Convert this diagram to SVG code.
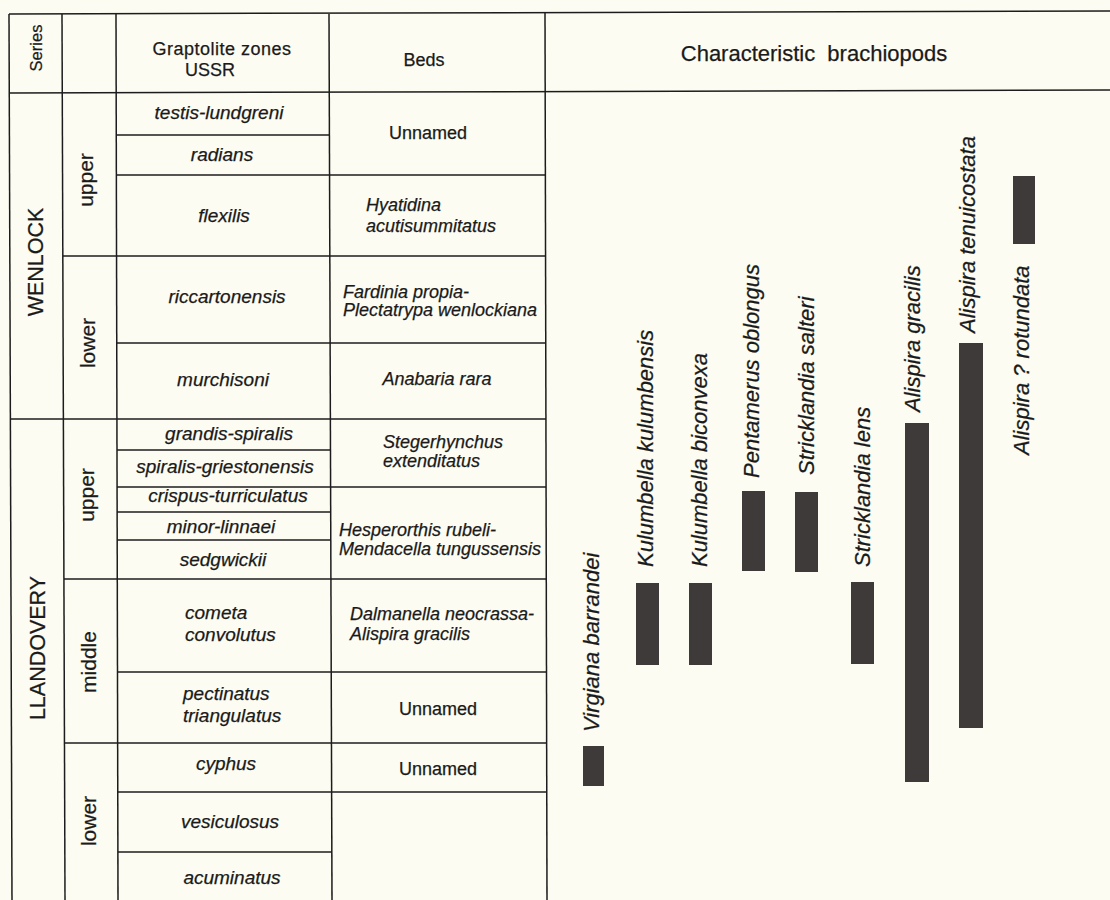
<svg xmlns="http://www.w3.org/2000/svg" width="1110" height="900" viewBox="0 0 1110 900">
<style>
  .bg { fill: #fdfcf2; }
  .ln { stroke: #1c1c1c; stroke-width: 1.5; fill: none; }
  text { font-family: "Liberation Sans", Arial, Helvetica, sans-serif; fill: #1a1a1a; stroke: #1a1a1a; stroke-width: 0.25px; }
  .hd { font-size: 18px; }
  .hd2 { font-size: 22px; word-spacing: 6px; }
  .ser { font-size: 21.5px; }
  .sub { font-size: 21px; }
  .zn { font-size: 19px; font-style: italic; }
  .bd { font-size: 18px; font-style: italic; }
  .un { font-size: 18px; }
  .lab { font-size: 22px; font-style: italic; }
  .bar { fill: #3f3a3a; }
  .m { text-anchor: middle; }
</style>
<rect class="bg" x="0" y="0" width="1110" height="900"/>

<g id="connectors">
  <line class="ln" x1="9" y1="14" x2="1110" y2="11"/>
  <line class="ln" x1="9" y1="93" x2="1110" y2="90"/>
  <line class="ln" x1="9" y1="14" x2="12" y2="900"/>
  <line class="ln" x1="62" y1="14" x2="65" y2="900"/>
  <line class="ln" x1="116" y1="14" x2="118" y2="900"/>
  <line class="ln" x1="329" y1="14" x2="332" y2="900"/>
  <line class="ln" x1="545" y1="12" x2="547" y2="900"/>
  <line class="ln" x1="116" y1="135" x2="330" y2="135"/>
  <line class="ln" x1="116" y1="175" x2="546" y2="175"/>
  <line class="ln" x1="63" y1="256" x2="546" y2="256"/>
  <line class="ln" x1="116" y1="343" x2="546" y2="343"/>
  <line class="ln" x1="10" y1="419" x2="546" y2="419"/>
  <line class="ln" x1="117" y1="450" x2="331" y2="450"/>
  <line class="ln" x1="117" y1="487" x2="546" y2="487"/>
  <line class="ln" x1="117" y1="512" x2="331" y2="512"/>
  <line class="ln" x1="117" y1="540" x2="331" y2="540"/>
  <line class="ln" x1="64" y1="579" x2="546" y2="579"/>
  <line class="ln" x1="117" y1="672" x2="547" y2="672"/>
  <line class="ln" x1="64" y1="743" x2="547" y2="743"/>
  <line class="ln" x1="117" y1="792" x2="547" y2="792"/>
  <line class="ln" x1="118" y1="852" x2="332" y2="852"/>
</g>

<g id="header">
  <text class="hd" transform="translate(42,48) rotate(-90)" text-anchor="middle" style="font-size:16.5px">Series</text>
  <text class="hd m" x="222" y="55" style="letter-spacing:0.5px">Graptolite zones</text>
  <text class="hd m" x="210" y="76">USSR</text>
  <text class="hd m" x="424" y="66">Beds</text>
  <text class="hd2 m" x="814" y="61">Characteristic brachiopods</text>
</g>

<g id="series">
  <text class="ser m" transform="translate(43,262) rotate(-90)">WENLOCK</text>
  <text class="ser m" transform="translate(45,648) rotate(-90)">LLANDOVERY</text>
</g>

<g id="substages">
  <text class="sub m" transform="translate(93,180) rotate(-90)">upper</text>
  <text class="sub m" transform="translate(95,343) rotate(-90)">lower</text>
  <text class="sub m" transform="translate(94,495) rotate(-90)">upper</text>
  <text class="sub m" transform="translate(96,662) rotate(-90)">middle</text>
  <text class="sub m" transform="translate(96,821) rotate(-90)">lower</text>
</g>

<g id="zones">
  <text class="zn m" x="219" y="119">testis-lundgreni</text>
  <text class="zn m" x="222" y="161">radians</text>
  <text class="zn m" x="224" y="222">flexilis</text>
  <text class="zn m" x="227" y="303">riccartonensis</text>
  <text class="zn m" x="223" y="386">murchisoni</text>
  <text class="zn m" x="229" y="440">grandis-spiralis</text>
  <text class="zn m" x="225" y="473">spiralis-griestonensis</text>
  <text class="zn m" x="228" y="502">crispus-turriculatus</text>
  <text class="zn m" x="221" y="533">minor-linnaei</text>
  <text class="zn m" x="223" y="566">sedgwickii</text>
  <text class="zn" x="185" y="619">cometa</text>
  <text class="zn" x="185" y="641">convolutus</text>
  <text class="zn" x="183" y="700">pectinatus</text>
  <text class="zn" x="183" y="722">triangulatus</text>
  <text class="zn m" x="226" y="770">cyphus</text>
  <text class="zn m" x="230" y="828">vesiculosus</text>
  <text class="zn m" x="232" y="884">acuminatus</text>
</g>

<g id="beds">
  <text class="un m" x="428" y="139">Unnamed</text>
  <text class="bd" x="366" y="211">Hyatidina</text>
  <text class="bd" x="366" y="232">acutisummitatus</text>
  <text class="bd" x="343" y="298">Fardinia propia-</text>
  <text class="bd" x="343" y="316">Plectatrypa wenlockiana</text>
  <text class="bd m" x="437" y="385">Anabaria rara</text>
  <text class="bd" x="383" y="448">Stegerhynchus</text>
  <text class="bd" x="383" y="467">extenditatus</text>
  <text class="bd" x="339" y="536">Hesperorthis rubeli-</text>
  <text class="bd" x="339" y="555">Mendacella tungussensis</text>
  <text class="bd" x="350" y="620">Dalmanella neocrassa-</text>
  <text class="bd" x="350" y="640">Alispira gracilis</text>
  <text class="un m" x="438" y="715">Unnamed</text>
  <text class="un m" x="438" y="775">Unnamed</text>
</g>

<g id="brachiopods">
  <g id="virgiana-barrandei">
    <rect class="bar" x="583" y="746" width="21" height="40"/>
    <text class="lab" transform="translate(599,732) rotate(-90)">Virgiana barrandei</text>
  </g>
  <g id="kulumbella-kulumbensis">
    <rect class="bar" x="636" y="583" width="23" height="82"/>
    <text class="lab" transform="translate(653,567) rotate(-90)">Kulumbella kulumbensis</text>
  </g>
  <g id="kulumbella-biconvexa">
    <rect class="bar" x="689" y="583" width="23" height="82"/>
    <text class="lab" transform="translate(707,567) rotate(-90)">Kulumbella biconvexa</text>
  </g>
  <g id="pentamerus-oblongus">
    <rect class="bar" x="742" y="491" width="23" height="80"/>
    <text class="lab" transform="translate(759,478) rotate(-90)">Pentamerus oblongus</text>
  </g>
  <g id="stricklandia-salteri">
    <rect class="bar" x="795" y="492" width="23" height="80"/>
    <text class="lab" transform="translate(814,475) rotate(-90)">Stricklandia salteri</text>
  </g>
  <g id="stricklandia-lens">
    <rect class="bar" x="851" y="582" width="23" height="82"/>
    <text class="lab" transform="translate(870,567) rotate(-90)">Stricklandia lens</text>
  </g>
  <g id="alispira-gracilis">
    <rect class="bar" x="905" y="423" width="24" height="359"/>
    <text class="lab" transform="translate(920,412) rotate(-90)">Alispira gracilis</text>
  </g>
  <g id="alispira-tenuicostata">
    <rect class="bar" x="959" y="343" width="24" height="385"/>
    <text class="lab" transform="translate(975,333) rotate(-90)">Alispira tenuicostata</text>
  </g>
  <g id="alispira-rotundata">
    <rect class="bar" x="1013" y="176" width="22" height="68"/>
    <text class="lab" transform="translate(1029,455) rotate(-90)">Alispira ? rotundata</text>
  </g>
</g>
</svg>
